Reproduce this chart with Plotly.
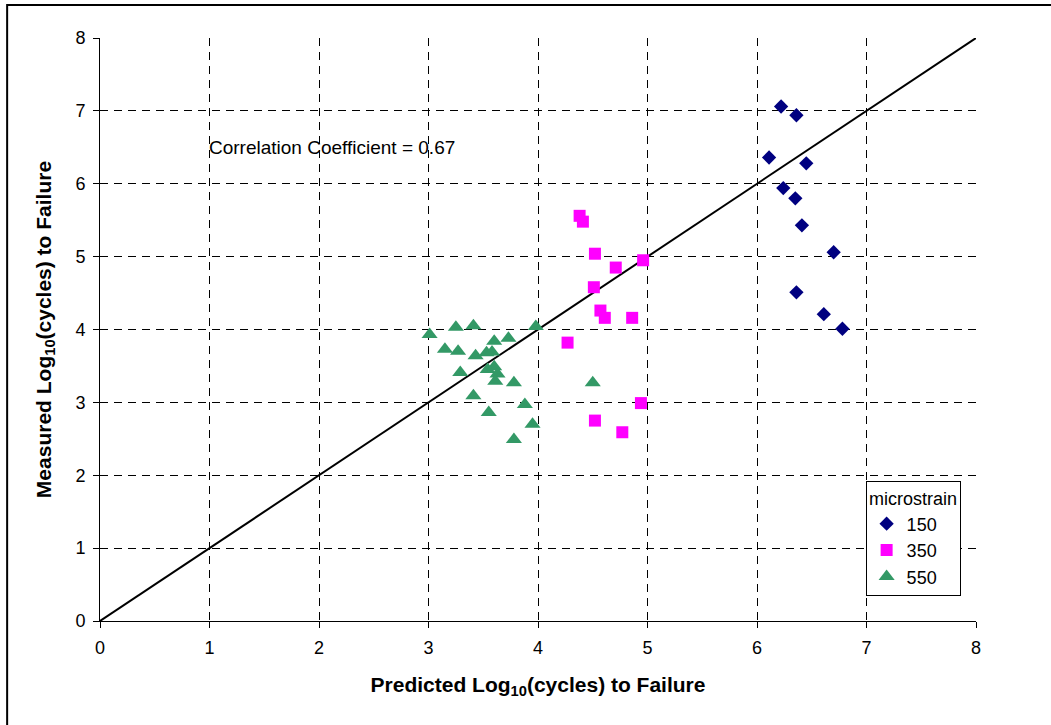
import plotly.graph_objects as go

# Predicted vs measured fatigue life, log10(cycles), by strain level
pred_150 = [6.22, 6.36, 6.11, 6.45, 6.24, 6.35, 6.41, 6.70, 6.36, 6.61, 6.78]
meas_150 = [7.06, 6.94, 6.36, 6.28, 5.94, 5.80, 5.43, 5.06, 4.51, 4.21, 4.01]

pred_350 = [4.38, 4.41, 4.52, 4.71, 4.96, 4.51, 4.57, 4.61, 4.86, 4.27, 4.94, 4.52, 4.77]
meas_350 = [5.56, 5.48, 5.04, 4.85, 4.95, 4.58, 4.26, 4.16, 4.16, 3.82, 2.99, 2.75, 2.59]

pred_550 = [3.01, 3.25, 3.41, 3.98, 3.15, 3.27, 3.60, 3.73, 3.43, 3.53, 3.58, 3.29,
            3.54, 3.60, 3.63, 3.61, 3.78, 3.41, 3.88, 3.55, 3.95, 3.78, 4.50]
meas_550 = [3.93, 4.03, 4.05, 4.04, 3.73, 3.70, 3.84, 3.88, 3.64, 3.68, 3.69, 3.41,
            3.45, 3.49, 3.39, 3.29, 3.27, 3.09, 2.97, 2.86, 2.70, 2.49, 3.27]

equality_line = [0, 8]
corr_text = "Correlation Coefficient = 0.67"
tick_vals = [0, 1, 2, 3, 4, 5, 6, 7, 8]

FONT = "Liberation Sans, Arial, sans-serif"

fig = go.Figure()

fig.add_trace(go.Scatter(
    x=equality_line, y=equality_line, mode="lines",
    line=dict(color="black", width=2), showlegend=False, hoverinfo="skip"))

fig.add_trace(go.Scatter(
    x=pred_150, y=meas_150, mode="markers", name="150",
    marker=dict(symbol="diamond", size=11, color="#000080")))
fig.add_trace(go.Scatter(
    x=pred_350, y=meas_350, mode="markers", name="350",
    marker=dict(symbol="square", size=12, color="#FF00FF")))
fig.add_trace(go.Scatter(
    x=pred_550, y=meas_550, mode="markers", name="550",
    marker=dict(symbol="triangle-up", size=14, color="#339966")))

axis_common = dict(
    range=[0, 8], tickvals=tick_vals, showgrid=True, gridcolor="black",
    gridwidth=1, griddash="8px,6px", zeroline=False, showline=True,
    linecolor="black", linewidth=1, ticks="outside", ticklen=6,
    tickcolor="black", tickfont=dict(family=FONT, size=18, color="black"),
    ticklabelstandoff=4,
)

fig.update_xaxes(
    **axis_common,
    title=dict(text="<b>Predicted Log<sub>10</sub>(cycles) to Failure</b>",
               font=dict(family=FONT, size=21, color="black"), standoff=20))
fig.update_yaxes(
    **axis_common,
    title=dict(text="<b>Measured Log<sub>10</sub>(cycles) to Failure</b>",
               font=dict(family=FONT, size=21, color="black"), standoff=18))

fig.add_annotation(
    x=0.98, y=6.5, xref="x", yref="y", text=corr_text, showarrow=False,
    xanchor="left", yanchor="middle",
    font=dict(family=FONT, size=19, color="black"))

# outer frame of the chart
fig.add_shape(type="rect", xref="paper", yref="paper",
              x0=-0.106, y0=-0.4, x1=1.3, y1=1.0566,
              line=dict(color="black", width=2))

fig.update_layout(
    width=1051, height=725,
    margin=dict(l=100, r=75, t=38, b=104),
    paper_bgcolor="white", plot_bgcolor="white",
    font=dict(family=FONT, color="black"),
    legend=dict(
        title=dict(text="microstrain", side="top center",
                   font=dict(family=FONT, size=18, color="black")),
        x=0.874, y=0.24, xanchor="left", yanchor="top",
        bgcolor="white", bordercolor="black", borderwidth=1,
        font=dict(family=FONT, size=18, color="black"),
        itemwidth=30, tracegroupgap=2),
)

fig.write_html("out.html")
